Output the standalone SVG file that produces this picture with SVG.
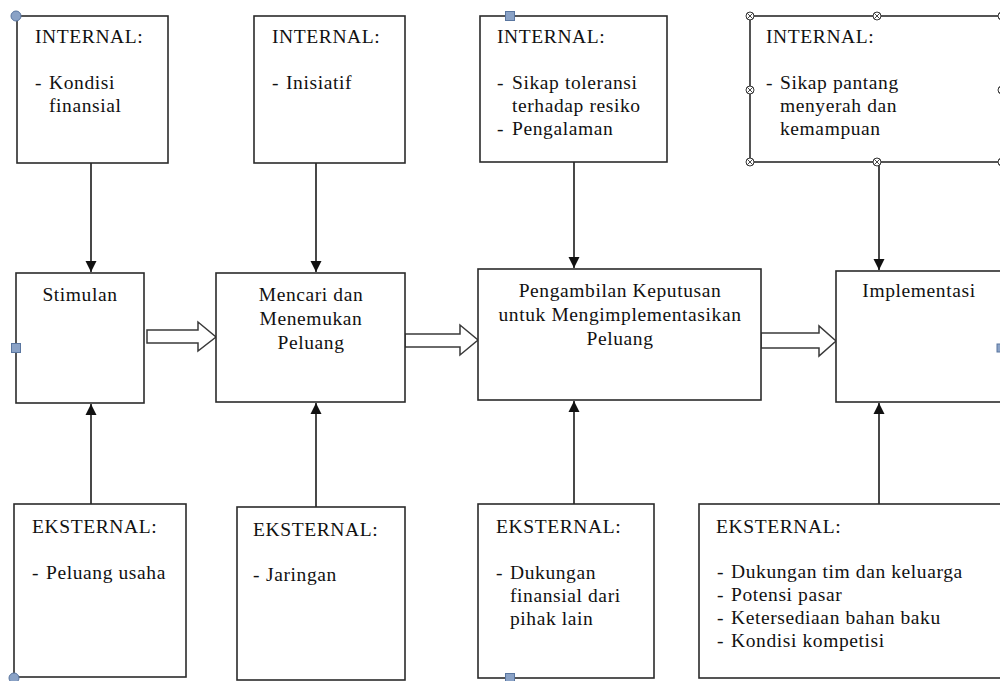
<svg xmlns="http://www.w3.org/2000/svg" width="1000" height="681" viewBox="0 0 1000 681">
<style>
.box{fill:#fff;stroke:#2b2b2b;stroke-width:1.6}
.t{font-family:"Liberation Serif","Times New Roman",serif;font-size:19.5px;letter-spacing:0.6px;fill:#111}
.c{text-anchor:middle}
.ln{stroke:#1a1a1a;stroke-width:1.6;fill:none}
.blk{fill:#fff;stroke:#3a3a3a;stroke-width:1.5;stroke-linejoin:miter}
.hb{fill:#8aa2c6;stroke:#5a76a0;stroke-width:1}
.hx{fill:#fff;stroke:#333;stroke-width:1}
</style>
<defs>
<marker id="ah" viewBox="0 0 10 10" refX="10" refY="5" markerWidth="7" markerHeight="7" markerUnits="strokeWidth" orient="auto">
<path d="M0,0 L10,5 L0,10 z" fill="#111"/>
</marker>
<g id="hxs"><circle r="4" class="hx"/><path d="M-2.8,-2.8 L2.8,2.8 M-2.8,2.8 L2.8,-2.8" stroke="#333" stroke-width="0.9"/></g>
</defs>
<rect width="1000" height="681" fill="#fff"/>

<g id="connectors">
<line class="ln" x1="91" y1="163" x2="91" y2="272" marker-end="url(#ah)"/>
<line class="ln" x1="316" y1="163" x2="316" y2="272" marker-end="url(#ah)"/>
<line class="ln" x1="574" y1="162" x2="574" y2="268" marker-end="url(#ah)"/>
<line class="ln" x1="879" y1="162" x2="879" y2="270" marker-end="url(#ah)"/>
<line class="ln" x1="91" y1="504" x2="91" y2="404" marker-end="url(#ah)"/>
<line class="ln" x1="316" y1="507" x2="316" y2="403" marker-end="url(#ah)"/>
<line class="ln" x1="574" y1="504" x2="574" y2="401" marker-end="url(#ah)"/>
<line class="ln" x1="879" y1="504" x2="879" y2="403" marker-end="url(#ah)"/>
<polygon class="blk" points="147,330 198,330 198,322 216,337 198,351 198,343 147,343"/>
<polygon class="blk" points="405,334 460,334 460,325 478,340 460,355 460,347 405,347"/>
<polygon class="blk" points="761,333 819,333 819,326 836,341 819,356 819,348 761,348"/>
</g>

<g id="int1">
<rect class="box" x="17" y="16" width="151" height="147"/>
<text class="t" x="35" y="43">INTERNAL:</text>
<text class="t" x="35" y="89">-</text>
<text class="t" x="49" y="89">Kondisi</text>
<text class="t" x="49" y="112">finansial</text>
<circle class="hb" cx="16" cy="16" r="5"/>
</g>

<g id="int2">
<rect class="box" x="254" y="16" width="151" height="147"/>
<text class="t" x="272" y="43">INTERNAL:</text>
<text class="t" x="272" y="89">-</text>
<text class="t" x="286" y="89">Inisiatif</text>
</g>

<g id="int3">
<rect class="box" x="480" y="16" width="187" height="146"/>
<text class="t" x="497" y="43">INTERNAL:</text>
<text class="t" x="497" y="89">-</text>
<text class="t" x="512" y="89">Sikap toleransi</text>
<text class="t" x="512" y="112">terhadap resiko</text>
<text class="t" x="497" y="135">-</text>
<text class="t" x="512" y="135">Pengalaman</text>
<rect class="hb" x="505.5" y="11.5" width="9" height="9"/>
</g>

<g id="int4">
<rect class="box" x="750" y="16" width="254" height="146"/>
<text class="t" x="766" y="43">INTERNAL:</text>
<text class="t" x="766" y="89">-</text>
<text class="t" x="780" y="89">Sikap pantang</text>
<text class="t" x="780" y="112">menyerah dan</text>
<text class="t" x="780" y="135">kemampuan</text>
<use href="#hxs" x="750" y="16"/>
<use href="#hxs" x="877" y="16"/>
<use href="#hxs" x="1002" y="16"/>
<use href="#hxs" x="750" y="90"/>
<use href="#hxs" x="1002" y="90"/>
<use href="#hxs" x="750" y="162"/>
<use href="#hxs" x="877" y="162"/>
<use href="#hxs" x="1002" y="162"/>
</g>

<g id="stimulan">
<rect class="box" x="16" y="273" width="128" height="130"/>
<text class="t c" x="80" y="301">Stimulan</text>
<rect class="hb" x="11.5" y="343.5" width="9" height="9"/>
</g>

<g id="mencari">
<rect class="box" x="216" y="273" width="189" height="129"/>
<text class="t c" x="311" y="301">Mencari dan</text>
<text class="t c" x="311" y="325">Menemukan</text>
<text class="t c" x="311" y="349">Peluang</text>
</g>

<g id="pengambilan">
<rect class="box" x="478" y="269" width="283" height="131"/>
<text class="t c" x="620" y="297">Pengambilan Keputusan</text>
<text class="t c" x="620" y="321">untuk Mengimplementasikan</text>
<text class="t c" x="620" y="345">Peluang</text>
</g>

<g id="implementasi">
<rect class="box" x="836" y="271" width="170" height="131"/>
<text class="t c" x="919" y="297">Implementasi</text>
<rect class="hb" x="997" y="344" width="8" height="8"/>
</g>

<g id="eks1">
<rect class="box" x="14" y="504" width="172" height="173"/>
<text class="t" x="32" y="533">EKSTERNAL:</text>
<text class="t" x="32" y="579">-</text>
<text class="t" x="46" y="579">Peluang usaha</text>
<circle class="hb" cx="14" cy="678" r="5"/>
</g>

<g id="eks2">
<rect class="box" x="237" y="507" width="168" height="173"/>
<text class="t" x="253" y="536">EKSTERNAL:</text>
<text class="t" x="253" y="581">-</text>
<text class="t" x="266" y="581">Jaringan</text>
</g>

<g id="eks3">
<rect class="box" x="478" y="504" width="176" height="174"/>
<text class="t" x="496" y="533">EKSTERNAL:</text>
<text class="t" x="496" y="579">-</text>
<text class="t" x="510" y="579">Dukungan</text>
<text class="t" x="510" y="602">finansial dari</text>
<text class="t" x="510" y="625">pihak lain</text>
<rect class="hb" x="505.5" y="673.5" width="9" height="9"/>
</g>

<g id="eks4">
<rect class="box" x="699" y="504" width="306" height="174"/>
<text class="t" x="716" y="533">EKSTERNAL:</text>
<text class="t" x="717" y="578">-</text>
<text class="t" x="731" y="578">Dukungan tim dan keluarga</text>
<text class="t" x="717" y="601">-</text>
<text class="t" x="731" y="601">Potensi pasar</text>
<text class="t" x="717" y="624">-</text>
<text class="t" x="731" y="624">Ketersediaan bahan baku</text>
<text class="t" x="717" y="647">-</text>
<text class="t" x="731" y="647">Kondisi kompetisi</text>
</g>
</svg>
